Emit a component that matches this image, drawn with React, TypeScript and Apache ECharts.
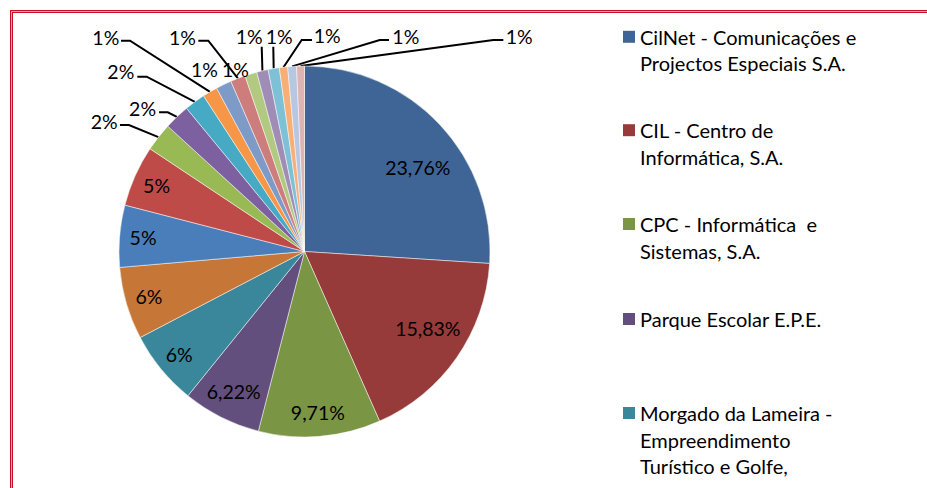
import React, { useEffect, useRef } from 'react';
import * as echarts from 'echarts';

// ---- data ----
const entities: string[] = [
  'CilNet - Comunicações e Projectos Especiais S.A.',
  'CIL - Centro de Informática, S.A.',
  'CPC - Informática e Sistemas, S.A.',
  'Parque Escolar E.P.E.',
  'Morgado da Lameira - Empreendimento Turístico e Golfe,',
  'Entidade 6', 'Entidade 7', 'Entidade 8', 'Entidade 9', 'Entidade 10',
  'Entidade 11', 'Entidade 12', 'Entidade 13', 'Entidade 14', 'Entidade 15',
  'Entidade 16', 'Entidade 17', 'Entidade 18', 'Entidade 19', 'Entidade 20',
];
const shares: number[] = [
  23.76, 15.83, 9.71, 6.22, 5.94, 5.76, 4.92, 4.85, 2.26, 2.03,
  1.65, 1.19, 1.24, 1.19, 0.96, 0.91, 0.89, 0.66, 0.70, 0.62,
];
const labelDecimals: number[] = [2, 2, 2, 2, 0, 0, 0, 0, 0, 0, 0, 0, 0, 0, 0, 0, 0, 0, 0, 0];
const legendLines: string[][] = [
  ['CilNet - Comunicações e', 'Projectos Especiais S.A.'],
  ['CIL - Centro de', 'Informática, S.A.'],
  ['CPC - Informática  e', 'Sistemas, S.A.'],
  ['Parque Escolar E.P.E.'],
  ['Morgado da Lameira -', 'Empreendimento', 'Turístico e Golfe,'],
];

// ---- styles / layout ----
const colors = [
  '#3F6597', '#963B3A', '#7A9544', '#624F7E', '#3A879B', '#C67738', '#4A7EBB', '#BE4B48',
  '#98B954', '#7D60A0', '#46AAC5', '#F79646', '#7E9BC8', '#CD7E7C', '#B1C980', '#9F8DB6',
  '#7EC0D5', '#F8AF77', '#B8C7E0', '#DDB4B3',
];
// 'a' = inner labels (wide slices), 'b' = inner labels (mid slices), 'o' = outside labels
const placement = ['a', 'a', 'b', 'b', 'b', 'b', 'b', 'b', 'o', 'o', 'o', 'o', 'o', 'o', 'o', 'o', 'o', 'o', 'o', 'o'];
// small nudges of inner labels (px)
const innerNudge: Record<number, number[]> = { 0: [9, 14], 1: [6, -5], 3: [2, -5] };
// outside label offsets relative to the slice's edge anchor: c = text centre, e = line end, b = bend
const outerOffsets: Record<number, { c: number[]; e?: number[]; b?: number[] }> = {
  8: { c: [-54.3, -15.4], e: [-38.5, -12.1], b: [-29.5, -12.1] },
  9: { c: [-34.3, -8.6], e: [-17.8, -4.6], b: [-9.1, -4.6] },
  10: { c: [-74.1, -30.2], e: [-57.6, -25.2], b: [-48.2, -25.2] },
  11: { c: [-104.2, -54.4], e: [-89, -51.2], b: [-80, -51.2] },
  12: { c: [-19.2, -15.3] },
  13: { c: [-55.4, -40.9], e: [-39.6, -37.7], b: [-29.6, -37.7] },
  14: { c: [-15.4, -4.9] },
  15: { c: [-13.2, -34.6], e: [-0.7, -24.1] },
  16: { c: [5.5, -32.4], e: [-0.4, -21.9] },
  17: { c: [43.7, -31.2], e: [28.5, -27.2], b: [18.2, -27.2] },
  18: { c: [113.7, -30.4], e: [96.9, -26.4], b: [87.6, -26.4] },
  19: { c: [218.7, -30], e: [202.8, -26], b: [192.8, -26] },
};
const W = 927;
const H = 488;
const CX = 304.5;
const CY = 251.5;
const R = 185.5;
const FONT = 'Lato';
const FS_PIE = 19.5;
const FS_LEGEND = 20;
const LH = 26.7;
const legendMarkerCentres = [36.8, 130.2, 224, 319, 413];

const fmt = (i: number) => shares[i].toFixed(labelDecimals[i]).replace('.', ',') + '%';

export default function App() {
  const ref = useRef<HTMLDivElement>(null);
  useEffect(() => {
    if (!ref.current) return;
    const chart = echarts.init(ref.current, undefined, { renderer: 'svg' });
    const labelBase = { fontFamily: FONT, fontSize: FS_PIE, color: '#000' };

    const mainData = shares.map((v, i) => ({
      value: v,
      name: entities[i],
      itemStyle: { color: colors[i] },
      label: { show: placement[i] === 'o' },
      labelLine: { show: placement[i] === 'o' },
    }));
    const overlay = (key: string, r0: number) => ({
      type: 'pie',
      radius: [r0, R],
      center: [CX, CY],
      silent: true,
      z: 3,
      legendHoverLink: false,
      avoidLabelOverlap: false,
      itemStyle: { color: 'rgba(0,0,0,0)', borderWidth: 0 },
      emphasis: { disabled: true },
      label: { ...labelBase, position: 'inside', formatter: (p: any) => fmt(p.dataIndex) },
      labelLine: { show: false },
      labelLayout: (params: any) => {
        const n = innerNudge[params.dataIndex];
        return n ? { dx: n[0], dy: n[1] } : {};
      },
      data: shares.map((v, i) => ({ value: v, name: entities[i], label: { show: placement[i] === key } })),
    });

    // legend blocks: 2 blank lines above + 3 text lines, so the marker sits on the first text line
    const BLOCK = 5;
    const borderLine = (x1: number, y1: number, x2: number, y2: number, stroke: string, lw: number, z: number) => ({
      type: 'line', silent: true, z,
      shape: { x1, y1, x2, y2 },
      style: { stroke, lineWidth: lw },
    });
    chart.setOption({
      animation: false,
      backgroundColor: '#ffffff',
      tooltip: { show: false },
      legend: legendLines.map((lines, i) => {
        const padded = [...lines];
        while (padded.length < 3) padded.push('');
        return {
          data: [entities[i]],
          orient: 'vertical',
          left: 623,
          top: legendMarkerCentres[i] - (BLOCK * LH) / 2,
          padding: 0,
          itemWidth: 12,
          itemHeight: 12,
          icon: 'rect',
          selectedMode: false,
          itemStyle: { borderWidth: 0 },
          formatter: () => '\n\n' + padded.join('\n'),
          textStyle: { fontFamily: FONT, fontSize: FS_LEGEND, color: '#000', lineHeight: LH },
        };
      }),
      graphic: [
        borderLine(10, 11.5, W, 11.5, '#c8102e', 3, 10),
        borderLine(11.5, 10, 11.5, H, '#c8102e', 3, 10),
        borderLine(11.5, 11.5, W, 11.5, '#f0a4ae', 1, 11),
        borderLine(11.5, 11.5, 11.5, H, '#f0a4ae', 1, 11),
      ],
      series: [
        {
          type: 'pie',
          radius: R,
          center: [CX, CY],
          startAngle: 90,
          clockwise: true,
          avoidLabelOverlap: false,
          emphasis: { disabled: true },
          itemStyle: { borderColor: 'rgba(255,255,255,0.7)', borderWidth: 0.7 },
          label: { ...labelBase, position: 'outside', formatter: (p: any) => fmt(p.dataIndex) },
          labelLine: { show: true, length: 10, length2: 10, smooth: false, lineStyle: { color: '#000', width: 2 } },
          labelLayout: (params: any) => {
            const o = outerOffsets[params.dataIndex];
            const pts = params.labelLinePoints;
            if (!o || !pts) return {};
            const a = pts[0];
            const e = o.e ? [a[0] + o.e[0], a[1] + o.e[1]] : a;
            const b = o.b ? [a[0] + o.b[0], a[1] + o.b[1]] : e;
            return {
              x: a[0] + o.c[0],
              y: a[1] + o.c[1],
              align: 'center',
              verticalAlign: 'middle',
              labelLinePoints: [a, b, e],
            };
          },
          data: mainData,
        },
        overlay('a', 94.5),
        overlay('b', 132.5),
      ],
    });
    return () => chart.dispose();
  }, []);
  return <div ref={ref} style={{ position: 'absolute', left: 0, top: 0, width: W, height: H }} />;
}
